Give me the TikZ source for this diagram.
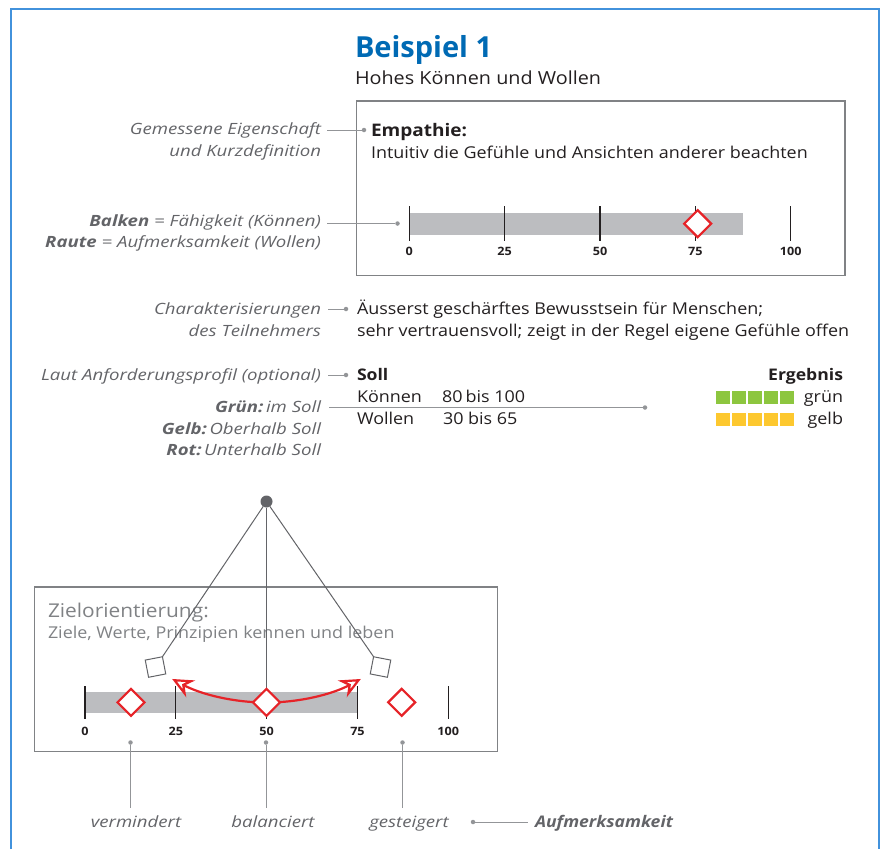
\documentclass[tikz,border=0pt]{standalone}
\usepackage{fontspec}
\setmainfont{Open Sans}[FakeStretch=1.1]
\newfontfamily\titelfont{Open Sans}
\newfontfamily\erklfont{Open Sans}[FakeStretch=1.2]
\usetikzlibrary{positioning,shapes.geometric,arrows.meta,calc}
\definecolor{rahmenblau}{RGB}{66,146,220}
\definecolor{titelblau}{RGB}{0,106,180}
\definecolor{grautext}{RGB}{99,100,104}
\definecolor{graulinie}{RGB}{147,149,152}
\definecolor{kastengrau}{RGB}{128,130,133}
\definecolor{balkengrau}{RGB}{188,189,192}
\definecolor{rautenrot}{RGB}{230,35,40}
\definecolor{gruen}{RGB}{141,198,63}
\definecolor{gelb}{RGB}{253,200,47}
\definecolor{schwarz}{RGB}{35,31,32}

\begin{document}
\begin{tikzpicture}[x=1pt,y=-1pt,
    every node/.style={inner sep=0pt,outer sep=0pt},
    erkl/.style={anchor=base east,text=grautext,font=\erklfont\fontsize{15.5}{19}\selectfont\itshape},
    inhalt/.style={anchor=base west,text=schwarz,font=\fontsize{16.3}{19}\selectfont},
    zahl/.style={anchor=base,text=schwarz,font=\fontsize{11.5}{13}\selectfont\bfseries},
    verbinder/.style={draw=graulinie,line width=1pt},
    punkt/.style={circle,fill=graulinie,minimum size=4.5pt},
    raute/.style={diamond,draw=rautenrot,fill=white,line width=2.2pt,minimum width=27pt,minimum height=27pt},
    strich/.style={draw=schwarz,line width=1.2pt},
    kasten/.style={draw=kastengrau,line width=1.3pt},
    feld/.style={minimum width=13.5pt,minimum height=13.5pt},
    pendel/.style={draw=grautext,line width=1pt},
    schwung/.style={draw=rautenrot,line width=2.2pt,-{Stealth[length=21pt,width=19pt,inset=7pt,fill=white]}}
    ]
    \useasboundingbox (0,0) rectangle (885,849);

    % frame and title
    \draw[rahmenblau,line width=2pt] (10.5,849) -- (10.5,8.5) -- (879,8.5) -- (879,849);
    \node[anchor=base west,text=titelblau,font=\titelfont\fontsize{29}{32}\selectfont\bfseries] (titel) at (355,57) {Beispiel 1};
    \node[inhalt,font=\fontsize{18}{22}\selectfont] (untertitel) at (355,84) {Hohes Können und Wollen};

    % upper box with the scale
    \draw[kasten] (356.5,101) rectangle (845,275.5);
    \node[inhalt,font=\fontsize{17.3}{21}\selectfont\bfseries] (empathie) at (371,136) {Empathie:};
    \node[inhalt] (definition) at (371,158.5) {Intuitiv die Gefühle und Ansichten anderer beachten};
    \fill[balkengrau] (409.3,213.3) rectangle (742.7,235);
    \foreach \w [count=\i from 0] in {0,25,50,75,100} {
      \draw[strich] (409.3+3.814*\w,206) -- (409.3+3.814*\w,241);
      \node[zahl] (oz\i) at (409.3+3.814*\w,255.5) {\w};
    }
    \node[raute] (oraute) at (697.7,223.7) {};

    % explanations on the left
    \node[erkl] (lGem) at (321,134.5) {Gemessene Eigenschaft};
    \node[erkl] (lKurz) at (321,156) {und Kurzdefinition};
    \node[erkl] (lBalken) at (321,226) {\textbf{Balken} = Fähigkeit (Können)};
    \node[erkl] (lRaute) at (321,247.5) {\textbf{Raute} = Aufmerksamkeit (Wollen)};
    \node[erkl] (lChar) at (321,314.5) {Charakterisierungen};
    \node[erkl] (lTeil) at (321,336.5) {des Teilnehmers};
    \node[erkl] (lLaut) at (321,380.5) {Laut Anforderungsprofil (optional)};
    \node[erkl] (lGruen) at (321,412.5) {\textbf{Grün:}\,im Soll};
    \node[erkl] (lGelb) at (321,434.5) {\textbf{Gelb:}\,Oberhalb Soll};
    \node[erkl] (lRot) at (321,455.5) {\textbf{Rot:}\,Unterhalb Soll};

    \node[punkt] (dGem) at (364,130) {};
    \node[punkt] (dBalken) at (397.5,223.5) {};
    \node[punkt] (dChar) at (346,309) {};
    \node[punkt] (dLaut) at (346,375) {};
    \node[punkt] (dGruen) at (645,407.5) {};
    \draw[verbinder] ($(dGem -| lGem.east)+(6,0)$) -- (dGem);
    \draw[verbinder] ($(dBalken -| lBalken.east)+(6,0)$) -- (dBalken);
    \draw[verbinder] ($(dChar -| lChar.east)+(7,0)$) -- (dChar);
    \draw[verbinder] ($(dLaut -| lLaut.east)+(7,0)$) -- (dLaut);
    \draw[verbinder] ($(dGruen -| lGruen.east)+(8,0)$) -- (dGruen);

    % characterisation and target
    \node[inhalt] (char1) at (357,314.5) {Äusserst geschärftes Bewusstsein für Menschen;};
    \node[inhalt] (char2) at (357,336.5) {sehr vertrauensvoll; zeigt in der Regel eigene Gefühle offen};
    \node[inhalt,font=\fontsize{16}{19}\selectfont\bfseries] (soll) at (357,380.5) {Soll};
    \node[inhalt] (koennen) at (357,402.5) {Können};
    \node[inhalt] (kwert) at (442,402.5) {80\hspace{3pt}bis 100};
    \node[inhalt] (wollen) at (357,424.5) {Wollen};
    \node[inhalt] (wwert) at (443,424.5) {30 bis 65};

    % result
    \node[anchor=base east,text=schwarz,font=\fontsize{16}{19}\selectfont\bfseries] (ergebnis) at (843,380.5) {Ergebnis};
    \foreach \i in {0,...,4} {
      \node[feld,fill=gruen] (g\i) at (722.8+16*\i,397.5) {};
      \node[feld,fill=gelb] (y\i) at (722.8+16*\i,419.7) {};
    }
    \node[anchor=base east,text=schwarz,font=\fontsize{16.3}{19}\selectfont] (gruentext) at (843,402.5) {grün};
    \node[anchor=base east,text=schwarz,font=\fontsize{16.3}{19}\selectfont] (gelbtext) at (843,424.5) {gelb};

    % lower box with the pendulum
    \draw[kasten] (34.5,587) rectangle (497.5,751.5);
    \node[anchor=base west,text=kastengrau,font=\fontsize{19}{22}\selectfont] (ziel) at (48,617) {Zielorientierung:};
    \node[anchor=base west,text=kastengrau,font=\fontsize{16.3}{19}\selectfont] (zieltext) at (48,638) {Ziele, Werte, Prinzipien kennen und leben};
    \fill[balkengrau] (85,692) rectangle (357.3,712.7);
    \foreach \w [count=\i from 0] in {0,25,50,75,100} {
      \draw[strich] (85+3.633*\w,686) -- (85+3.633*\w,719);
      \node[zahl] (uz\i) at (85+3.633*\w,735) {\w};
    }

    \node[circle,fill=grautext,minimum size=12pt] (pivot) at (266.5,501.5) {};
    \node[draw=grautext,fill=white,line width=1pt,minimum size=17.5pt,rotate=11] (qL) at (155.5,667) {};
    \node[draw=grautext,fill=white,line width=1pt,minimum size=17.5pt,rotate=-11] (qR) at (380.5,667) {};
    \draw[pendel] (pivot) -- (qL.north east);
    \draw[pendel] (pivot) -- (qR.north west);
    \draw[pendel] (pivot) -- (266.5,700);
    \draw[schwung] (pivot) ++(90:201) arc[start angle=90,end angle=118,radius=201];
    \draw[schwung] (pivot) ++(90:201) arc[start angle=90,end angle=62,radius=201];
    \node[raute] (rL) at (131,702.3) {};
    \node[raute] (rM) at (266.5,702.3) {};
    \node[raute] (rR) at (401.7,702.3) {};

    % attention labels
    \node[punkt] (dL) at (130.5,742.5) {};
    \node[punkt] (dM) at (266,742.5) {};
    \node[punkt] (dR) at (402.5,742.5) {};
    \node[erkl,anchor=base] (vermindert) at (136,827) {vermindert};
    \node[erkl,anchor=base] (balanciert) at (273,827) {balanciert};
    \node[erkl,anchor=base] (gesteigert) at (409,827) {gesteigert};
    \coordinate (eL) at (130.5,808);
    \coordinate (eM) at (266,808);
    \coordinate (eR) at (402.5,808);
    \draw[verbinder] (dL) -- (eL);
    \draw[verbinder] (dM) -- (eM);
    \draw[verbinder] (dR) -- (eR);
    \node[punkt] (dAuf) at (473,822) {};
    \node[erkl,anchor=base west,font=\fontsize{16}{19}\selectfont\bfseries\itshape] (aufmerksamkeit) at (535,827) {Aufmerksamkeit};
    \draw[verbinder] (dAuf) -- ($(aufmerksamkeit.west |- dAuf)+(-7,0)$);
\end{tikzpicture}
\end{document}
